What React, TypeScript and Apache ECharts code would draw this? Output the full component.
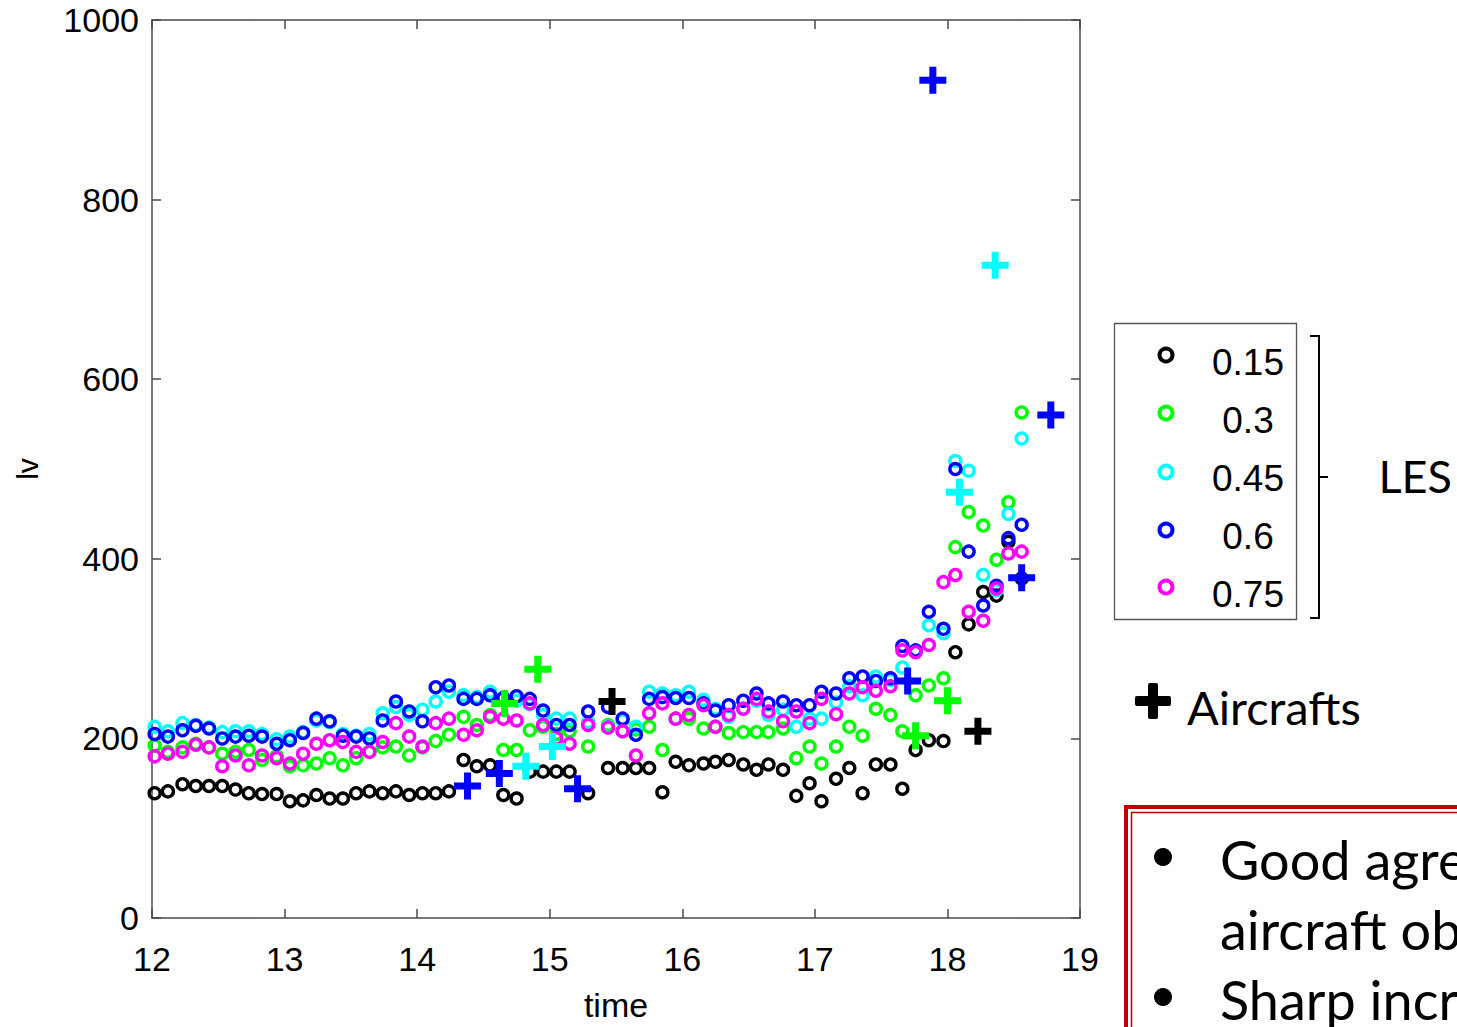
import React, { useEffect, useRef } from "react";
import * as echarts from "echarts";

// time (h) of each LES output
const times = [
  12.02, 12.12, 12.23, 12.33, 12.43, 12.53, 12.63, 12.73, 12.83, 12.94,
  13.04, 13.14, 13.24, 13.34, 13.44, 13.54, 13.64, 13.74, 13.84, 13.94,
  14.04, 14.14, 14.24, 14.35, 14.45, 14.55, 14.65, 14.75, 14.85, 14.95,
  15.05, 15.15, 15.29, 15.44, 15.55, 15.65, 15.75, 15.85, 15.95, 16.05,
  16.16, 16.25, 16.35, 16.46, 16.56, 16.65, 16.76, 16.86, 16.96, 17.05,
  17.16, 17.26, 17.36, 17.46, 17.57, 17.66, 17.76, 17.86, 17.97, 18.06,
  18.16, 18.27, 18.37, 18.46, 18.56,
];

const les015 = [
  139, 141, 149, 147, 147, 147, 143, 139, 138, 138,
  130, 131, 137, 133, 133, 139, 141, 139, 141, 137,
  139, 139, 141, 176, 169, 170, 137, 133, 163, 163,
  163, 163, 139, 167, 167, 167, 167, 140, 174, 170,
  172, 174, 176, 171, 165, 171, 165, 136, 150, 130,
  155, 167, 139, 171, 171, 144, 187, 198, 197, 296,
  327, 363, 359, 419, 378,
];
const les030 = [
  192, 185, 190, 194, 190, 183, 185, 187, 176, 180,
  169, 170, 172, 178, 170, 178, 185, 190, 191, 181,
  190, 197, 204, 224, 215, 226, 187, 187, 209, 213,
  205, 208, 191, 215, 208, 210, 213, 187, 222, 222,
  211, 213, 206, 207, 207, 207, 211, 178, 191, 172,
  191, 213, 203, 233, 226, 208, 248, 259, 267, 413,
  452, 437, 399, 463, 563,
];
const les045 = [
  213, 208, 217, 215, 212, 207, 208, 208, 205, 199,
  202, 207, 220, 218, 205, 203, 205, 228, 235, 226,
  232, 241, 252, 248, 246, 252, 245, 242, 238, 226,
  222, 222, 218, 213, 220, 213, 252, 250, 248, 252,
  243, 233, 224, 233, 242, 226, 232, 213, 222, 222,
  240, 258, 248, 269, 265, 279, 297, 326, 317, 509,
  498, 382, 365, 450, 534,
];
const les060 = [
  205, 202, 209, 214, 211, 200, 202, 203, 202, 194,
  198, 206, 222, 219, 203, 202, 200, 220, 241, 230,
  219, 257, 259, 244, 244, 248, 245, 247, 244, 231,
  215, 215, 230, 235, 222, 204, 244, 246, 245, 245,
  239, 231, 237, 242, 250, 239, 241, 237, 237, 252,
  250, 267, 269, 264, 267, 303, 298, 341, 322, 500,
  408, 348, 370, 423, 438,
];
const les075 = [
  180, 183, 185, 193, 190, 169, 181, 170, 181, 178,
  172, 183, 194, 198, 196, 185, 185, 196, 217, 202,
  191, 217, 222, 204, 209, 224, 222, 220, 239, 215,
  200, 194, 215, 212, 208, 181, 228, 239, 222, 226,
  237, 213, 226, 233, 244, 230, 219, 230, 217, 244,
  227, 250, 257, 253, 258, 298, 296, 304, 374, 382,
  341, 331, 367, 406, 408,
];

// aircraft observations: times and values
const acBlackT = [15.47, 18.23];
const acBlackV = [241, 208];
const acGreenT = [14.66, 14.91, 17.76, 18.0];
const acGreenV = [239, 277, 203, 242];
const acCyanT = [14.82, 15.02, 18.09, 18.36];
const acCyanV = [169, 191, 474, 727];
const acBlueT = [14.38, 14.62, 15.21, 17.7, 17.89, 18.56, 18.78];
const acBlueV = [147, 161, 144, 264, 933, 379, 560];

const lesNames = ["0.15", "0.3", "0.45", "0.6", "0.75"];
const lesColors = ["#000000", "#00ff00", "#00ffff", "#0000ff", "#ff00ff"];
const lesData = [les015, les030, les045, les060, les075];

const xTickMin = 12;
const xTickMax = 19;
const yTickMin = 0;
const yTickMax = 1000;

const boxLines = ["Good agreement with", "aircraft observations", "Sharp increase"];

const PLUS = "path://M10,0H17V10H27V17H17V27H10V17H0V10H10Z";
const AXIS_COLOR = "#4a4a4a";
const TICK_FONT = "Liberation Sans";
const SLIDE_FONT = "Lato";

export default function App() {
  const ref = useRef<HTMLDivElement>(null);

  useEffect(() => {
    if (!ref.current) return;
    const chart = echarts.init(ref.current, null, { renderer: "svg" });

    const lesSeries = lesData.map((arr, k) => ({
      type: "scatter",
      name: lesNames[k],
      xAxisIndex: 0,
      yAxisIndex: 0,
      symbol: "circle",
      symbolSize: 11,
      itemStyle: { color: "transparent", borderColor: lesColors[k], borderWidth: 3.4, opacity: 1 },
      emphasis: { disabled: true },
      data: times.map((t, i) => [t, arr[i]]),
      z: 2,
    }));

    const acSets = [
      { t: acBlackT, v: acBlackV, c: "#000000" },
      { t: acGreenT, v: acGreenV, c: "#00ff00" },
      { t: acCyanT, v: acCyanV, c: "#00ffff" },
      { t: acBlueT, v: acBlueV, c: "#0000ff" },
    ];
    const acSeries = acSets.map((s, k) => ({
      type: "scatter",
      name: "Aircrafts " + k,
      xAxisIndex: 0,
      yAxisIndex: 0,
      symbol: PLUS,
      symbolSize: 27,
      itemStyle: { color: s.c, opacity: 1 },
      emphasis: { disabled: true },
      data: s.t.map((t, i) => [t, s.v[i]]),
      z: 3,
    }));

    const legendTop = [355, 413, 472, 530, 587];
    const legendText = [362, 420, 478, 536, 594];
    const legendEls: any[] = [
      {
        type: "rect",
        shape: { x: 1114.5, y: 323.5, width: 182, height: 296 },
        style: { fill: "#ffffff", stroke: "#555555", lineWidth: 1.3 },
      },
    ];
    lesNames.forEach((n, k) => {
      legendEls.push({
        type: "circle",
        shape: { cx: 1166, cy: legendTop[k], r: 6.5 },
        style: { fill: "none", stroke: lesColors[k], lineWidth: 4 },
      });
      legendEls.push({
        type: "text",
        x: 1248,
        y: legendText[k],
        style: {
          text: n,
          fill: "#000",
          fontSize: 37,
          fontFamily: TICK_FONT,
          textAlign: "center",
          textVerticalAlign: "middle",
        },
      });
    });

    const graphics: any[] = [
      ...legendEls,
      {
        type: "polyline",
        shape: { points: [[1310, 336], [1319, 336], [1319, 618], [1310, 618]] },
        style: { stroke: "#000", lineWidth: 2, fill: "none" },
      },
      {
        type: "line",
        shape: { x1: 1319, y1: 477, x2: 1328, y2: 477 },
        style: { stroke: "#000", lineWidth: 2 },
      },
      {
        type: "text",
        x: 1452,
        y: 476,
        style: {
          text: "LES",
          fill: "#000",
          fontSize: 45,
          fontFamily: SLIDE_FONT,
          textAlign: "right",
          textVerticalAlign: "middle",
        },
      },
      {
        type: "rect",
        shape: { x: 1135, y: 696, width: 36, height: 10, r: 2 },
        style: { fill: "#000" },
      },
      {
        type: "rect",
        shape: { x: 1148, y: 683, width: 10, height: 36, r: 2 },
        style: { fill: "#000" },
      },
      {
        type: "text",
        x: 1187,
        y: 707,
        style: { text: "Aircrafts", fill: "#000", fontSize: 47, fontFamily: SLIDE_FONT, textVerticalAlign: "middle" },
      },
      {
        type: "rect",
        shape: { x: 1126, y: 807, width: 400, height: 300 },
        style: { fill: "#ffffff", stroke: "#c00000", lineWidth: 4 },
      },
      {
        type: "rect",
        shape: { x: 1131.5, y: 812.5, width: 400, height: 300 },
        style: { fill: "none", stroke: "#c00000", lineWidth: 1.5 },
      },
      { type: "circle", shape: { cx: 1163, cy: 857, r: 9 }, style: { fill: "#000" } },
      { type: "circle", shape: { cx: 1163, cy: 997, r: 9 }, style: { fill: "#000" } },
      ...boxLines.map((line, k) => ({
        type: "text",
        x: 1220,
        y: [859, 929, 999][k],
        style: { text: line, fill: "#000", fontSize: 54, fontFamily: SLIDE_FONT, textVerticalAlign: "middle" },
      })),
    ];

    const baseAxis = {
      axisLine: { show: true, onZero: false, lineStyle: { color: AXIS_COLOR, width: 1.5 } },
      axisTick: { show: true, inside: true, length: 9, lineStyle: { color: AXIS_COLOR, width: 1.5 } },
      splitLine: { show: false },
    };

    const option: any = {
      animation: false,
      backgroundColor: "#ffffff",
      grid: { left: 152, top: 20, width: 928, height: 900, containLabel: false },
      xAxis: [
        {
          type: "value",
          position: "bottom",
          min: xTickMin,
          max: xTickMax,
          interval: 1,
          ...baseAxis,
          axisLabel: { color: "#000", fontSize: 34, fontFamily: TICK_FONT, margin: 24 },
          name: "time",
          nameLocation: "middle",
          nameGap: 70,
          nameTextStyle: { color: "#000", fontSize: 34, fontFamily: TICK_FONT },
        },
        {
          type: "value",
          position: "top",
          min: xTickMin,
          max: xTickMax,
          interval: 1,
          ...baseAxis,
          axisLabel: { show: false },
        },
      ],
      yAxis: [
        {
          type: "value",
          position: "left",
          min: yTickMin,
          max: yTickMax,
          interval: 200,
          ...baseAxis,
          axisLabel: {
            color: "#000",
            fontSize: 34,
            fontFamily: TICK_FONT,
            margin: 13,
            formatter: (v: number) => String(v),
          },
          name: "lv",
          nameLocation: "middle",
          nameRotate: 90,
          nameGap: 110,
          nameTextStyle: { color: "#000", fontSize: 30, fontFamily: TICK_FONT },
        },
        {
          type: "value",
          position: "right",
          min: yTickMin,
          max: yTickMax,
          interval: 200,
          ...baseAxis,
          axisLabel: { show: false },
        },
      ],
      series: [...lesSeries, ...acSeries],
      graphic: graphics,
    };

    chart.setOption(option);
    return () => chart.dispose();
  }, []);

  return (
    <div
      ref={ref}
      style={{ position: "fixed", left: 0, top: 0, width: 1457, height: 1027, background: "#fff" }}
    />
  );
}
